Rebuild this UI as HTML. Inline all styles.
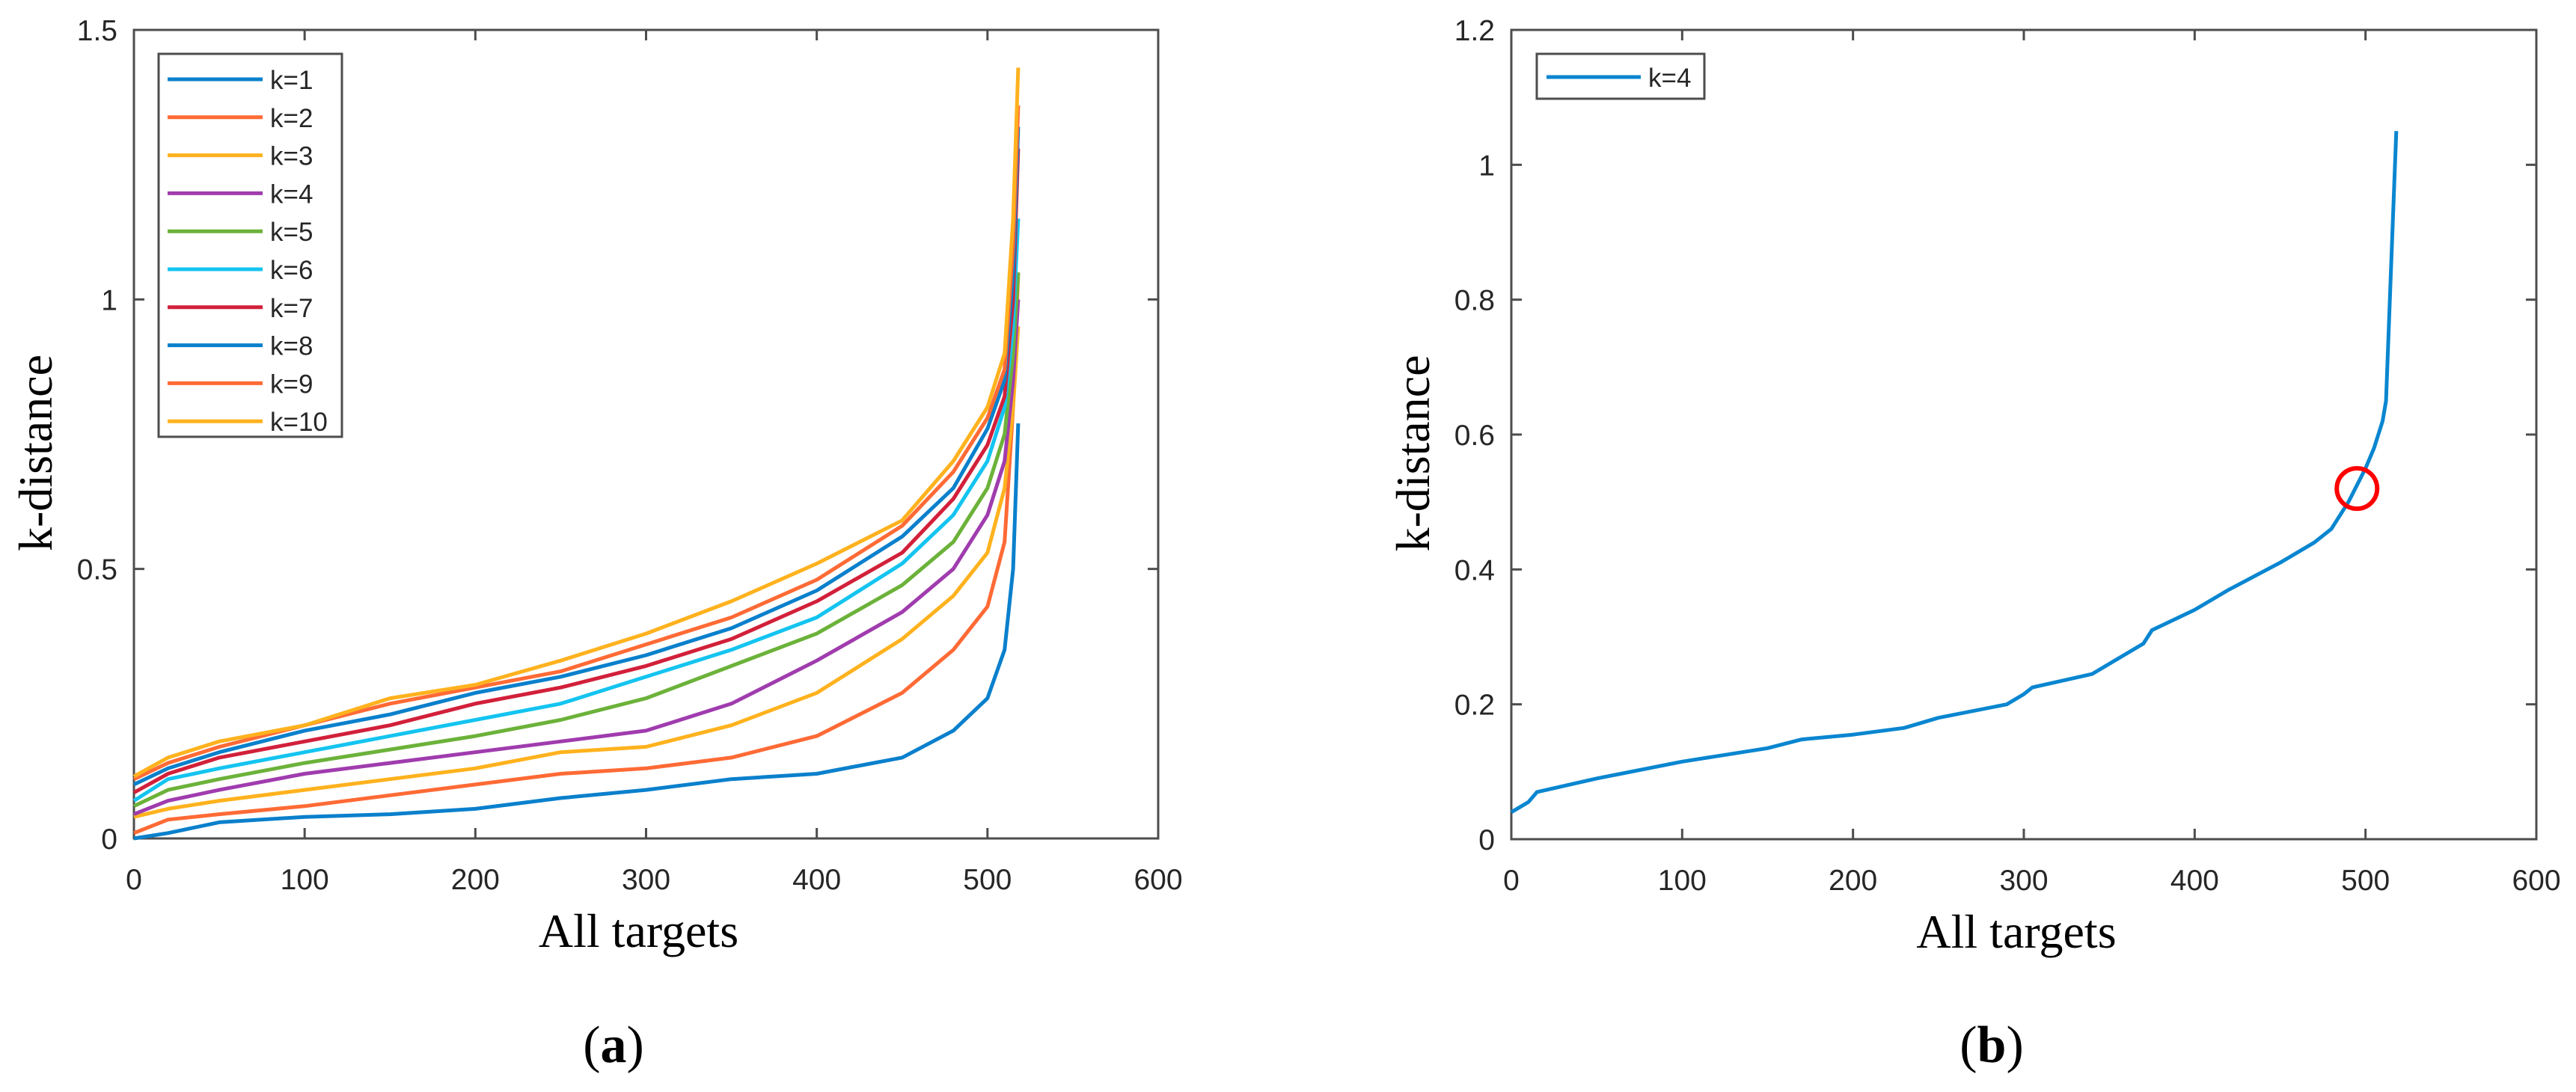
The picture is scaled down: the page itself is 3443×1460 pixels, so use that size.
<!DOCTYPE html>
<html><head><meta charset="utf-8"><style>
html,body{margin:0;padding:0;background:#fff;}
svg{display:block;}
.tick{font-family:"Liberation Sans",sans-serif;font-size:39px;fill:#262626;}
.ttl{font-family:"Liberation Serif",serif;font-size:64px;fill:#000;}
.lg{font-family:"Liberation Sans",sans-serif;font-size:35px;fill:#262626;}
</style></head><body>
<svg id="fig" width="3443" height="1460" viewBox="0 0 3443 1460" xmlns="http://www.w3.org/2000/svg"></svg>
<script>
// ---- data ----
const xTicks = [0,100,200,300,400,500,600];
const yTicksA = [0,0.5,1,1.5];
const yTickLabelsA = ["0","0.5","1","1.5"];
const yTicksB = [0,0.2,0.4,0.6,0.8,1,1.2];
const yTickLabelsB = ["0","0.2","0.4","0.6","0.8","1","1.2"];
const seriesNames = ["k=1","k=2","k=3","k=4","k=5","k=6","k=7","k=8","k=9","k=10"];
const xs = [0,20,50,100,150,200,250,300,350,400,450,480,500,510,515,518];
const k1 = [0.0,0.01,0.03,0.04,0.045,0.055,0.075,0.09,0.11,0.12,0.15,0.2,0.26,0.35,0.5,0.77];
const k2 = [0.01,0.035,0.045,0.06,0.08,0.1,0.12,0.13,0.15,0.19,0.27,0.35,0.43,0.55,0.8,1.05];
const k3 = [0.04,0.055,0.07,0.09,0.11,0.13,0.16,0.17,0.21,0.27,0.37,0.45,0.53,0.65,0.8,0.95];
const k4 = [0.045,0.07,0.09,0.12,0.14,0.16,0.18,0.2,0.25,0.33,0.42,0.5,0.6,0.7,0.85,1.0];
const k5 = [0.06,0.09,0.11,0.14,0.165,0.19,0.22,0.26,0.32,0.38,0.47,0.55,0.65,0.75,0.9,1.05];
const k6 = [0.07,0.11,0.13,0.16,0.19,0.22,0.25,0.3,0.35,0.41,0.51,0.6,0.7,0.8,0.95,1.15];
const k7 = [0.085,0.12,0.15,0.18,0.21,0.25,0.28,0.32,0.37,0.44,0.53,0.63,0.73,0.82,1.0,1.28];
const k8 = [0.1,0.13,0.16,0.2,0.23,0.27,0.3,0.34,0.39,0.46,0.56,0.65,0.76,0.85,1.05,1.32];
const k9 = [0.11,0.14,0.17,0.21,0.25,0.28,0.31,0.36,0.41,0.48,0.58,0.68,0.78,0.87,1.1,1.36];
const k10 = [0.115,0.15,0.18,0.21,0.26,0.285,0.33,0.38,0.44,0.51,0.59,0.7,0.8,0.9,1.15,1.43];
const seriesA = [k1,k2,k3,k4,k5,k6,k7,k8,k9,k10];
const colors = ["#0a80cc","#ff6a35","#ffb21e","#a03cae","#6cb23a","#14c4f0","#d2203a","#0a80cc","#ff6a35","#ffb21e"];
const xsB = [0,10,15,50,100,150,170,200,230,250,290,300,305,340,370,375,400,420,450,470,480,490,500,505,510,512,515,518];
const k4b = [0.04,0.055,0.07,0.09,0.115,0.135,0.148,0.155,0.165,0.18,0.2,0.215,0.225,0.245,0.29,0.31,0.34,0.37,0.41,0.44,0.46,0.5,0.55,0.58,0.62,0.65,0.85,1.05];
const knee = {x:495, y:0.52};

const NS="http://www.w3.org/2000/svg";
const svg=document.getElementById('fig');
function el(tag,attrs,parent,text){const e=document.createElementNS(NS,tag);for(const k in attrs)e.setAttribute(k,attrs[k]);if(text!==undefined)e.textContent=text;(parent||svg).appendChild(e);return e;}

function axes(g,L,R,T,B,xmax,ymax,yT,yL){
  const sx=v=>L+(R-L)*v/xmax, sy=v=>B-(B-T)*v/ymax;
  const box=el('rect',{x:L,y:T,width:R-L,height:B-T,fill:'none',stroke:'#4d4d4d','stroke-width':3},g);
  
  
  xTicks.forEach(t=>{
    const x=sx(t);
    el('line',{x1:x,y1:B,x2:x,y2:B-14,stroke:'#4d4d4d','stroke-width':3},g);
    el('line',{x1:x,y1:T,x2:x,y2:T+14,stroke:'#4d4d4d','stroke-width':3},g);
    const tx=el('text',{x:x,y:B+68,'text-anchor':'middle',class:'tick'},g,String(t));
    
    
  });
  yT.forEach((t,i)=>{
    const y=sy(t);
    el('line',{x1:L,y1:y,x2:L+14,y2:y,stroke:'#4d4d4d','stroke-width':3},g);
    el('line',{x1:R,y1:y,x2:R-14,y2:y,stroke:'#4d4d4d','stroke-width':3},g);
    const ty=el('text',{x:L-22,y:y+14,'text-anchor':'end',class:'tick'},g,yL[i]);
    
    
  });
  const xt=el('text',{x:(L+R)/2-10,y:B+145,'text-anchor':'middle',class:'ttl'},g,'All targets');
  
  
  const yt=el('text',{x:0,y:0,'text-anchor':'middle',class:'ttl',transform:`translate(${L-110},${(T+B)/2+25}) rotate(-90)`},g,'k-distance');
  
  
  return {sx,sy};
}
function line(g,sx,sy,X,Y,c){
  const d=X.map((x,i)=>(i?'L':'M')+sx(x).toFixed(1)+','+sy(Y[i]).toFixed(1)).join(' ');
  return el('path',{d:d,fill:'none',stroke:c,'stroke-width':5,'stroke-linejoin':'round'},g);
}

// ---- panel a ----
const ga=el('g',{});


const A=axes(ga,179,1548,40,1121,600,1.5,yTicksA,yTickLabelsA);
seriesA.forEach((s,i)=>{
  const p=line(ga,A.sx,A.sy,xs,s,colors[i]);
  
  
});
const lga=el('g',{},ga);


el('rect',{x:212,y:72,width:245,height:512,fill:'#fff',stroke:'#4d4d4d','stroke-width':3},lga);
seriesNames.forEach((n,i)=>{
  const y=106+i*50.8;
  const ln=el('line',{x1:224,y1:y,x2:351,y2:y,stroke:colors[i],'stroke-width':5},lga);
  
  
  const t=el('text',{x:361,y:y+13,class:'lg'},lga,n);
  
  
});
const la=el('text',{x:820,y:1420,'text-anchor':'middle',style:'font-family:"Liberation Serif",serif;font-size:70px;'},ga);


la.innerHTML='(<tspan font-weight="bold">a</tspan>)';

// ---- panel b ----
const gb=el('g',{});


const B=axes(gb,2020,3390,40,1122,600,1.2,yTicksB,yTickLabelsB);
const pb=line(gb,B.sx,B.sy,xsB,k4b,'#0a86d0');


const c=el('circle',{cx:B.sx(knee.x),cy:B.sy(knee.y),r:27,fill:'none',stroke:'#ff0000','stroke-width':6},gb);


const lgb=el('g',{},gb);


el('rect',{x:2054,y:72,width:224,height:60,fill:'#fff',stroke:'#4d4d4d','stroke-width':3},lgb);
el('line',{x1:2067,y1:103,x2:2193,y2:103,stroke:'#0a86d0','stroke-width':5},lgb);
const tb=el('text',{x:2203,y:116,class:'lg'},lgb,'k=4');


const lb=el('text',{x:2662,y:1420,'text-anchor':'middle',style:'font-family:"Liberation Serif",serif;font-size:70px;'},gb);


lb.innerHTML='(<tspan font-weight="bold">b</tspan>)';
</script>
</body></html>
